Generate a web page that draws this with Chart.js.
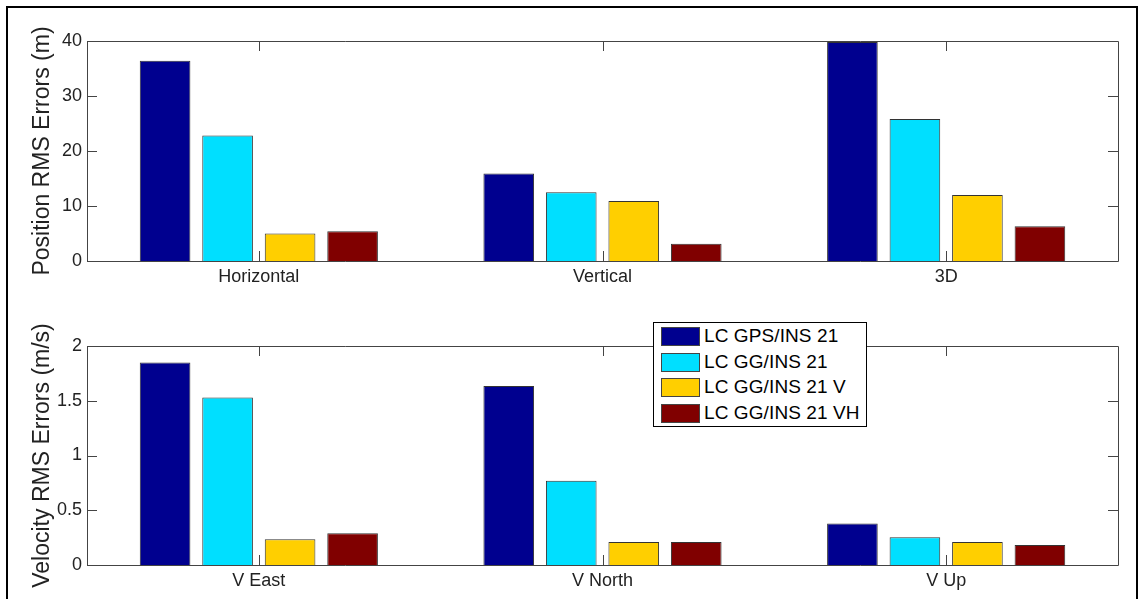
<!DOCTYPE html>
<html>
<head>
<meta charset="utf-8">
<script src="https://cdn.jsdelivr.net/npm/chart.js@4/dist/chart.umd.min.js"></script>
<style>
  html, body { margin: 0; padding: 0; background: #fff; overflow: hidden; }
  body { width: 1141px; height: 599px; position: relative; font-family: 'Liberation Sans', Arial, sans-serif; }
  #frame { position: absolute; left: 6px; top: 6px; width: 1128px; height: 640px; border: 2px solid #000; }
  canvas { position: absolute; left: 0; }
  #posChart { top: 0; }
  #velChart { top: 300px; }
  #legend { position: absolute; left: 653px; top: 322px; width: 212px; height: 103px;
            border: 1px solid #000; background: #fff; z-index: 5; }
  .row { position: absolute; left: 7px; height: 20px; display: flex; align-items: center; }
  .sw { width: 37px; height: 17px; border: 1px solid #444; margin-right: 4px; }
  .lbl { font-size: 19px; color: #000; white-space: nowrap; letter-spacing: 0.1px; }
</style>
</head>
<body>
<div id="frame"></div>
<canvas id="posChart" width="1141" height="300"></canvas>
<canvas id="velChart" width="1141" height="299"></canvas>
<div id="legend"></div>
<script>
// Categories
const posCategories = ['Horizontal', 'Vertical', '3D'];
const velCategories = ['V East', 'V North', 'V Up'];

// Series names and fill colours
const seriesNames = ['LC GPS/INS 21', 'LC GG/INS 21', 'LC GG/INS 21 V', 'LC GG/INS 21 VH'];
const seriesColors = ['#00008F', '#00DFFF', '#FFCF00', '#800000'];

// Position RMS errors (m)
const posGpsIns21 = [36.4, 15.9, 39.8];
const posGgIns21 = [22.8, 12.5, 25.8];
const posGgIns21V = [5.0, 10.9, 12.0];
const posGgIns21VH = [5.4, 3.15, 6.3];

// Velocity RMS errors (m/s)
const velGpsIns21 = [1.85, 1.635, 0.38];
const velGgIns21 = [1.53, 0.77, 0.253];
const velGgIns21V = [0.235, 0.21, 0.21];
const velGgIns21VH = [0.29, 0.21, 0.183];

// Y tick values
const posTicks = [0, 10, 20, 30, 40];
const velTicks = [0, 0.5, 1, 1.5, 2];

const FONT = "'Liberation Sans', Arial, sans-serif";
const AXIS_COLOR = '#444';

// Box around the plot area with inward-pointing ticks on all four sides
const boxTicks = {
  id: 'boxTicks',
  afterDraw(chart) {
    const { ctx, chartArea: a, scales } = chart;
    ctx.save();
    ctx.strokeStyle = AXIS_COLOR;
    ctx.lineWidth = 1;
    ctx.beginPath();
    ctx.rect(Math.round(a.left) + 0.5, Math.round(a.top) + 0.5,
             Math.round(a.right - a.left), Math.round(a.bottom - a.top));
    const len = 10;
    scales.y.ticks.forEach(t => {
      const y = Math.round(scales.y.getPixelForValue(t.value)) + 0.5;
      ctx.moveTo(a.left, y); ctx.lineTo(a.left + len, y);
      ctx.moveTo(a.right, y); ctx.lineTo(a.right - len, y);
    });
    scales.x.ticks.forEach((t, i) => {
      const x = Math.round(scales.x.getPixelForTick(i)) + 0.5;
      ctx.moveTo(x, a.top); ctx.lineTo(x, a.top + len);
      ctx.moveTo(x, a.bottom); ctx.lineTo(x, a.bottom - len);
    });
    ctx.stroke();
    ctx.restore();
  }
};

function makeChart(id, categories, seriesData, tickValues, title, padTop, xHeight) {
  return new Chart(document.getElementById(id), {
    type: 'bar',
    data: {
      labels: categories,
      datasets: seriesData.map((d, i) => ({
        label: seriesNames[i],
        data: d,
        backgroundColor: seriesColors[i],
        borderColor: '#333',
        borderWidth: 1,
        categoryPercentage: 0.7275,
        barPercentage: 0.81
      }))
    },
    options: {
      responsive: false,
      animation: false,
      layout: { padding: { top: padTop, right: 23, left: 0, bottom: 0 } },
      plugins: { legend: { display: false }, tooltip: { enabled: false } },
      scales: {
        x: {
          grid: { display: false, drawTicks: false },
          border: { display: false },
          ticks: { color: '#222', font: { family: FONT, size: 18 }, padding: 5, maxRotation: 0 },
          afterFit(s) { s.height = xHeight; }
        },
        y: {
          min: tickValues[0],
          max: tickValues[tickValues.length - 1],
          grid: { display: false, drawTicks: false },
          border: { display: false },
          afterBuildTicks(s) { s.ticks = tickValues.map(v => ({ value: v })); },
          ticks: { color: '#222', font: { family: FONT, size: 18 }, padding: 5,
                   callback: v => String(v) },
          title: { display: true, text: title, color: '#222',
                   font: { family: FONT, size: 23 }, padding: { top: 29, bottom: 0 } },
          afterFit(s) { s.width = 87; }
        }
      }
    },
    plugins: [boxTicks]
  });
}

makeChart('posChart', posCategories,
  [posGpsIns21, posGgIns21, posGgIns21V, posGgIns21VH],
  posTicks, 'Position RMS Errors (m)', 41, 39);

makeChart('velChart', velCategories,
  [velGpsIns21, velGgIns21, velGgIns21V, velGgIns21VH],
  velTicks, 'Velocity RMS Errors (m/s)', 46, 34);

// Legend shared by both panels
const legend = document.getElementById('legend');
const rowTops = [3, 29, 54, 80];
seriesNames.forEach((name, i) => {
  const row = document.createElement('div');
  row.className = 'row';
  row.style.top = rowTops[i] + 'px';
  const sw = document.createElement('div');
  sw.className = 'sw';
  sw.style.background = seriesColors[i];
  const lbl = document.createElement('span');
  lbl.className = 'lbl';
  lbl.textContent = name;
  row.appendChild(sw);
  row.appendChild(lbl);
  legend.appendChild(row);
});
</script>
</body>
</html>
